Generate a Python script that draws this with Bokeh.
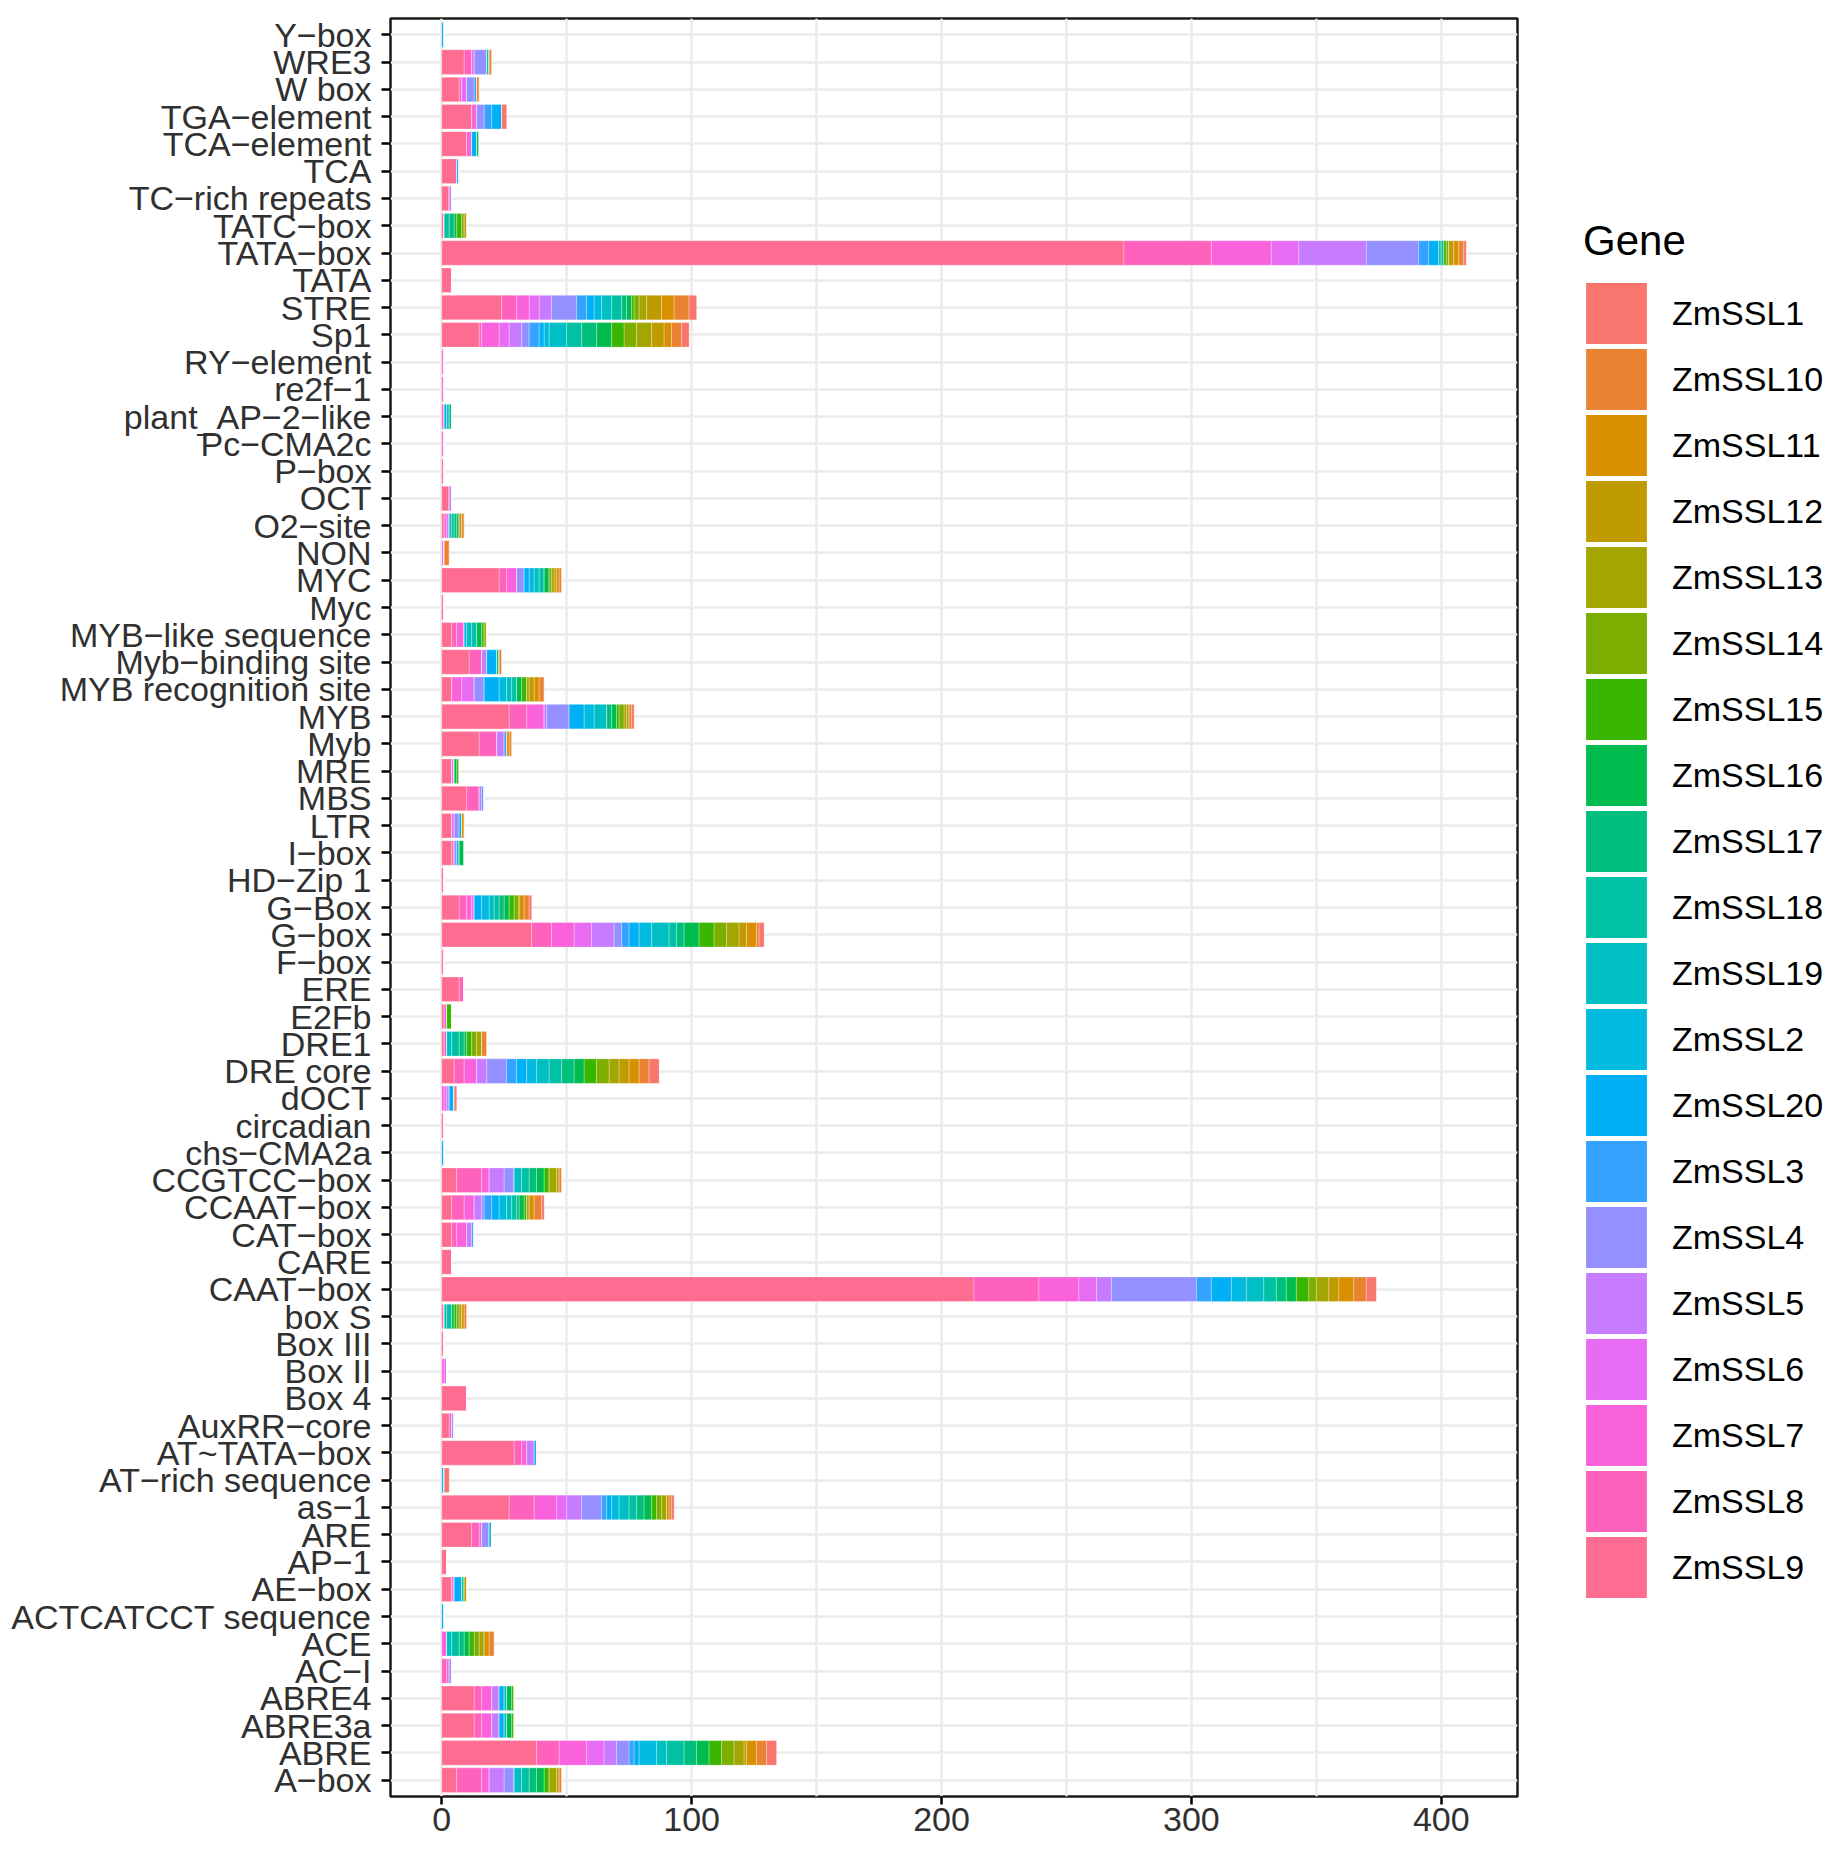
from bokeh.plotting import figure
from bokeh.layouts import row
from bokeh.models import ColumnDataSource, FactorRange, Range1d, FixedTicker, Legend, LegendItem
from bokeh.embed import file_html
from bokeh.resources import INLINE

# cis-elements, listed from the bottom of the y axis to the top
motifs = [
    "A−box", "ABRE", "ABRE3a", "ABRE4", "AC−I", "ACE", "ACTCATCCT sequence", "AE−box", "AP−1", "ARE",
    "as−1", "AT−rich sequence", "AT~TATA−box", "AuxRR−core", "Box 4", "Box II", "Box III", "box S", "CAAT−box", "CARE",
    "CAT−box", "CCAAT−box", "CCGTCC−box", "chs−CMA2a", "circadian", "dOCT", "DRE core", "DRE1", "E2Fb", "ERE",
    "F−box", "G−box", "G−Box", "HD−Zip 1", "I−box", "LTR", "MBS", "MRE", "Myb", "MYB",
    "MYB recognition site", "Myb−binding site", "MYB−like sequence", "Myc", "MYC", "NON", "O2−site", "OCT", "P−box", "Pc−CMA2c",
    "plant_AP−2−like", "re2f−1", "RY−element", "Sp1", "STRE", "TATA", "TATA−box", "TATC−box", "TC−rich repeats", "TCA",
    "TCA−element", "TGA−element", "W box", "WRE3", "Y−box",
]

genes = ["ZmSSL1", "ZmSSL10", "ZmSSL11", "ZmSSL12", "ZmSSL13", "ZmSSL14", "ZmSSL15", "ZmSSL16", "ZmSSL17", "ZmSSL18",
         "ZmSSL19", "ZmSSL2", "ZmSSL20", "ZmSSL3", "ZmSSL4", "ZmSSL5", "ZmSSL6", "ZmSSL7", "ZmSSL8", "ZmSSL9"]
gene_colors = ["#F8766D", "#EA8331", "#D89000", "#C09B00", "#A3A500", "#7CAE00", "#39B600", "#00BB4E", "#00BF7D", "#00C1A3",
               "#00BFC4", "#00BAE0", "#00B0F6", "#35A2FF", "#9590FF", "#C77CFF", "#E76BF3", "#FA62DB", "#FF62BC", "#FF6C91"]

# element counts per gene, same order as motifs
ssl9 = [6, 38, 13, 13, 0, 0, 0, 4, 2, 12,
        27, 0, 29, 3, 10, 0, 1, 1, 213, 4,
        4, 4, 6, 0, 1, 0, 5, 1, 1, 7,
        1, 36, 7, 1, 4, 4, 10, 4, 15, 27,
        4, 11, 4, 1, 23, 0, 1, 3, 0, 0,
        0, 0, 0, 15, 24, 4, 273, 1, 3, 6,
        10, 12, 7, 9, 0]
ssl8 = [10, 9, 3, 3, 2, 0, 0, 0, 0, 3,
        10, 0, 3, 1, 0, 0, 0, 0, 26, 0,
        2, 5, 10, 0, 0, 0, 4, 0, 0, 2,
        0, 8, 3, 0, 1, 0, 5, 0, 7, 7,
        0, 5, 2, 0, 3, 0, 0, 0, 1, 0,
        1, 0, 0, 1, 6, 0, 35, 0, 0, 0,
        0, 0, 1, 3, 0]
ssl7 = [3, 11, 4, 4, 1, 2, 0, 1, 0, 1,
        9, 0, 2, 0, 0, 1, 0, 0, 16, 0,
        4, 4, 3, 0, 0, 1, 5, 1, 1, 0,
        0, 9, 2, 0, 0, 0, 0, 0, 0, 7,
        4, 0, 3, 0, 4, 0, 1, 0, 0, 1,
        0, 1, 1, 7, 5, 0, 24, 0, 0, 0,
        2, 2, 0, 0, 0]
ssl6 = [0, 7, 0, 0, 0, 0, 0, 0, 0, 0,
        4, 0, 0, 0, 0, 1, 0, 0, 7, 0,
        0, 0, 0, 0, 0, 1, 0, 0, 0, 0,
        0, 7, 1, 0, 0, 1, 0, 1, 0, 0,
        5, 0, 0, 0, 0, 1, 1, 0, 0, 0,
        0, 0, 0, 4, 4, 0, 11, 0, 0, 0,
        0, 0, 2, 1, 0]
ssl5 = [6, 5, 3, 3, 0, 0, 0, 0, 0, 0,
        6, 0, 3, 0, 0, 0, 0, 0, 6, 0,
        2, 3, 6, 0, 0, 1, 4, 0, 0, 0,
        0, 9, 0, 0, 0, 0, 1, 0, 3, 1,
        0, 2, 0, 0, 0, 0, 0, 1, 0, 0,
        0, 0, 0, 5, 5, 0, 27, 0, 1, 0,
        0, 0, 0, 0, 0]
ssl4 = [4, 5, 0, 0, 1, 0, 0, 0, 0, 3,
        8, 0, 0, 1, 0, 0, 0, 0, 34, 0,
        0, 1, 4, 0, 0, 0, 8, 0, 0, 0,
        0, 3, 0, 0, 1, 2, 0, 0, 0, 9,
        4, 0, 0, 0, 3, 0, 0, 0, 0, 0,
        0, 0, 0, 3, 10, 0, 21, 0, 0, 0,
        0, 3, 3, 5, 0]
ssl3 = [0, 2, 0, 0, 0, 0, 0, 0, 0, 0,
        2, 0, 1, 0, 0, 0, 0, 0, 6, 0,
        1, 3, 0, 0, 0, 0, 4, 0, 0, 0,
        0, 3, 0, 0, 0, 0, 1, 0, 1, 0,
        0, 0, 0, 0, 0, 0, 0, 0, 0, 0,
        0, 0, 0, 4, 4, 0, 4, 0, 0, 1,
        0, 3, 1, 0, 0]
ssl20 = [0, 2, 2, 2, 0, 0, 1, 3, 0, 0,
         2, 1, 0, 0, 0, 0, 0, 0, 8, 0,
         0, 3, 0, 1, 0, 2, 4, 0, 0, 0,
         0, 4, 3, 0, 1, 1, 0, 0, 0, 6,
         6, 4, 0, 0, 2, 0, 0, 0, 0, 0,
         1, 0, 0, 2, 3, 0, 4, 0, 0, 0,
         2, 4, 0, 0, 1]
ssl2 = [0, 7, 0, 0, 0, 0, 0, 0, 0, 0,
        3, 0, 0, 0, 0, 0, 0, 0, 6, 0,
        0, 3, 0, 0, 0, 0, 4, 0, 0, 0,
        0, 5, 3, 0, 0, 0, 0, 0, 0, 4,
        3, 0, 1, 0, 2, 0, 0, 0, 0, 0,
        0, 0, 0, 2, 3, 0, 0, 0, 0, 0,
        0, 0, 0, 0, 0]
ssl19 = [3, 4, 1, 1, 0, 2, 0, 0, 0, 1,
         4, 0, 0, 0, 0, 0, 0, 1, 7, 0,
         0, 2, 3, 0, 0, 0, 5, 2, 0, 0,
         0, 7, 2, 0, 0, 0, 0, 0, 0, 5,
         2, 0, 2, 0, 2, 0, 1, 0, 0, 0,
         1, 0, 0, 7, 4, 0, 1, 0, 0, 0,
         0, 0, 0, 0, 0]
ssl18 = [3, 7, 0, 0, 0, 3, 0, 0, 0, 0,
         3, 0, 0, 0, 0, 0, 0, 2, 5, 0,
         0, 2, 3, 0, 0, 0, 5, 3, 0, 0,
         0, 3, 2, 0, 0, 0, 0, 0, 0, 0,
         2, 0, 2, 0, 2, 0, 1, 0, 0, 0,
         0, 0, 0, 6, 4, 0, 0, 2, 0, 0,
         0, 0, 0, 1, 0]
ssl17 = [3, 5, 0, 0, 0, 2, 0, 1, 0, 0,
         3, 0, 0, 0, 0, 0, 0, 0, 4, 0,
         0, 1, 3, 0, 0, 0, 5, 2, 0, 0,
         0, 3, 2, 0, 0, 0, 0, 0, 0, 2,
         0, 1, 0, 0, 0, 0, 1, 0, 0, 0,
         1, 0, 0, 6, 2, 0, 1, 2, 0, 0,
         0, 0, 0, 0, 0]
ssl16 = [3, 5, 2, 2, 0, 2, 0, 0, 0, 0,
         3, 0, 0, 0, 0, 0, 0, 1, 4, 0,
         0, 2, 3, 0, 0, 0, 4, 1, 0, 0,
         0, 6, 2, 0, 2, 0, 0, 1, 0, 2,
         2, 0, 2, 0, 2, 0, 1, 0, 0, 0,
         0, 0, 0, 6, 2, 0, 0, 1, 0, 0,
         1, 0, 0, 0, 0]
ssl15 = [2, 5, 1, 1, 0, 2, 0, 0, 0, 0,
         2, 0, 0, 0, 0, 0, 0, 1, 5, 0,
         0, 1, 2, 0, 0, 0, 5, 2, 2, 0,
         0, 6, 2, 0, 0, 0, 0, 1, 0, 1,
         2, 0, 1, 0, 0, 0, 0, 0, 0, 0,
         0, 0, 0, 5, 1, 0, 1, 2, 0, 0,
         0, 0, 0, 0, 0]
ssl14 = [0, 5, 0, 0, 0, 2, 0, 0, 0, 0,
         2, 0, 0, 0, 0, 0, 0, 1, 3, 0,
         0, 0, 0, 0, 0, 0, 5, 2, 0, 0,
         0, 5, 2, 0, 0, 0, 0, 0, 0, 2,
         0, 0, 0, 0, 1, 0, 0, 0, 0, 0,
         0, 0, 0, 5, 2, 0, 1, 1, 0, 0,
         0, 0, 0, 0, 0]
ssl13 = [3, 4, 0, 0, 0, 2, 0, 0, 0, 0,
         2, 0, 0, 0, 0, 0, 0, 1, 5, 0,
         0, 1, 3, 0, 0, 0, 4, 2, 0, 0,
         0, 5, 0, 0, 0, 0, 0, 0, 0, 1,
         1, 0, 1, 0, 1, 0, 0, 0, 0, 0,
         0, 0, 0, 6, 3, 0, 0, 0, 0, 0,
         0, 0, 0, 0, 0]
ssl12 = [1, 1, 0, 0, 0, 0, 0, 1, 0, 0,
         0, 0, 0, 0, 0, 0, 0, 0, 4, 0,
         0, 0, 1, 0, 0, 0, 4, 0, 0, 0,
         0, 3, 0, 0, 0, 0, 0, 0, 0, 1,
         2, 0, 0, 0, 1, 0, 1, 0, 0, 0,
         0, 0, 0, 5, 6, 0, 2, 1, 0, 0,
         0, 0, 0, 0, 0]
ssl11 = [0, 4, 0, 0, 0, 2, 0, 0, 0, 0,
         1, 0, 0, 0, 0, 0, 0, 1, 6, 0,
         0, 2, 0, 0, 0, 0, 4, 0, 0, 0,
         0, 4, 2, 0, 0, 1, 0, 0, 1, 0,
         2, 0, 0, 0, 1, 0, 0, 0, 0, 0,
         0, 0, 0, 3, 5, 0, 2, 0, 0, 0,
         0, 0, 0, 0, 0]
ssl10 = [1, 4, 0, 0, 0, 2, 0, 0, 0, 0,
         1, 0, 0, 0, 0, 0, 0, 1, 5, 0,
         0, 3, 1, 0, 0, 0, 4, 2, 0, 0,
         0, 1, 2, 0, 0, 0, 0, 0, 1, 1,
         2, 1, 0, 0, 1, 2, 1, 0, 0, 0,
         0, 0, 0, 4, 6, 0, 2, 0, 0, 0,
         0, 0, 1, 1, 0]
ssl1 = [0, 4, 0, 0, 0, 0, 0, 0, 0, 0,
        1, 2, 0, 0, 0, 0, 0, 0, 4, 0,
        0, 1, 0, 0, 0, 1, 4, 0, 0, 0,
        0, 2, 1, 0, 0, 0, 0, 0, 0, 1,
        0, 0, 0, 0, 0, 0, 0, 0, 0, 0,
        0, 0, 0, 3, 3, 0, 1, 0, 0, 0,
        0, 2, 0, 0, 0]

x_ticks = [0, 100, 200, 300, 400]
x_minor_ticks = [50, 150, 250, 350]

counts = {
    "ZmSSL1": ssl1, "ZmSSL10": ssl10, "ZmSSL11": ssl11, "ZmSSL12": ssl12, "ZmSSL13": ssl13,
    "ZmSSL14": ssl14, "ZmSSL15": ssl15, "ZmSSL16": ssl16, "ZmSSL17": ssl17, "ZmSSL18": ssl18,
    "ZmSSL19": ssl19, "ZmSSL2": ssl2, "ZmSSL20": ssl20, "ZmSSL3": ssl3, "ZmSSL4": ssl4,
    "ZmSSL5": ssl5, "ZmSSL6": ssl6, "ZmSSL7": ssl7, "ZmSSL8": ssl8, "ZmSSL9": ssl9,
}

source = ColumnDataSource(dict(motif=motifs, **counts))
totals = [sum(v) for v in zip(*counts.values())]
xmax = max(totals)

FONT = "Liberation Sans"
GRID = "#EBEBEB"
H = 1844

p = figure(
    width=1520, height=H,
    y_range=FactorRange(factors=motifs, range_padding=0.1, range_padding_units="absolute"),
    x_range=Range1d(-0.05 * xmax, 1.05 * xmax),
    output_backend="svg", toolbar_location=None,
    min_border_left=390, min_border_right=3, min_border_top=18, min_border_bottom=48,
)

# ggplot stacks the last factor level next to the axis
stack_order = list(reversed(genes))
stack_colors = list(reversed(gene_colors))
p.hbar_stack(stack_order, y="motif", height=0.9, color=stack_colors, source=source,
             line_color="white", line_alpha=0.45, line_width=0.6)

ticker = FixedTicker(ticks=x_ticks, minor_ticks=x_minor_ticks)
p.xaxis.ticker = ticker
p.xgrid.ticker = ticker
p.xgrid.grid_line_color = GRID
p.xgrid.grid_line_width = 2.5
p.xgrid.minor_grid_line_color = GRID
p.xgrid.minor_grid_line_width = 2.5
p.ygrid.grid_line_color = GRID
p.ygrid.grid_line_width = 2.5

p.axis.axis_line_color = None
p.axis.major_tick_line_color = "black"
p.axis.major_tick_line_width = 2.5
p.axis.major_tick_in = 0
p.axis.minor_tick_line_color = None
p.axis.major_label_text_font = FONT
p.axis.major_label_text_font_size = "34px"
p.axis.major_label_text_color = "#303030"
p.yaxis.major_tick_out = 9
p.yaxis.major_label_standoff = 10
p.xaxis.major_tick_out = 8
p.xaxis.major_label_standoff = 3

p.outline_line_color = "#1a1a1a"
p.outline_line_width = 2.5
p.background_fill_color = "white"
p.border_fill_color = "white"

# the fill legend lives in its own narrow panel to the right of the chart;
# its renderers share the data but are hidden, only their legend keys show
p_leg = figure(width=307, height=H, x_range=Range1d(-2, -1),
               y_range=FactorRange(factors=motifs),
               x_axis_type=None, y_axis_type=None, output_backend="svg", toolbar_location=None,
               min_border=0, outline_line_color=None)
p_leg.grid.visible = False
p_leg.background_fill_color = "white"
p_leg.border_fill_color = "white"

leg_renderers = p_leg.hbar_stack(stack_order, y="motif", height=0.9, color=stack_colors,
                                 line_color=stack_colors, line_width=8, line_join="miter", source=source)
for r in leg_renderers:
    r.visible = False
leg_by_gene = dict(zip(stack_order, leg_renderers))

legend = Legend(items=[LegendItem(label=g, renderers=[leg_by_gene[g]]) for g in genes],
                title="Gene", location=(63, 196))
legend.click_policy = "none"
legend.title_text_font = FONT
legend.title_text_font_size = "42px"
legend.title_text_font_style = "normal"
legend.title_text_color = "black"
legend.title_standoff = 15
legend.label_text_font = FONT
legend.label_text_font_size = "34px"
legend.label_text_color = "black"
legend.label_standoff = 23
legend.glyph_width = 66
legend.glyph_height = 66
legend.spacing = 0
legend.padding = 0
legend.margin = 0
legend.border_line_color = None
legend.background_fill_color = None
p_leg.add_layout(legend)

layout = row(p, p_leg)

open("out.html", "w").write(file_html(layout, INLINE))
